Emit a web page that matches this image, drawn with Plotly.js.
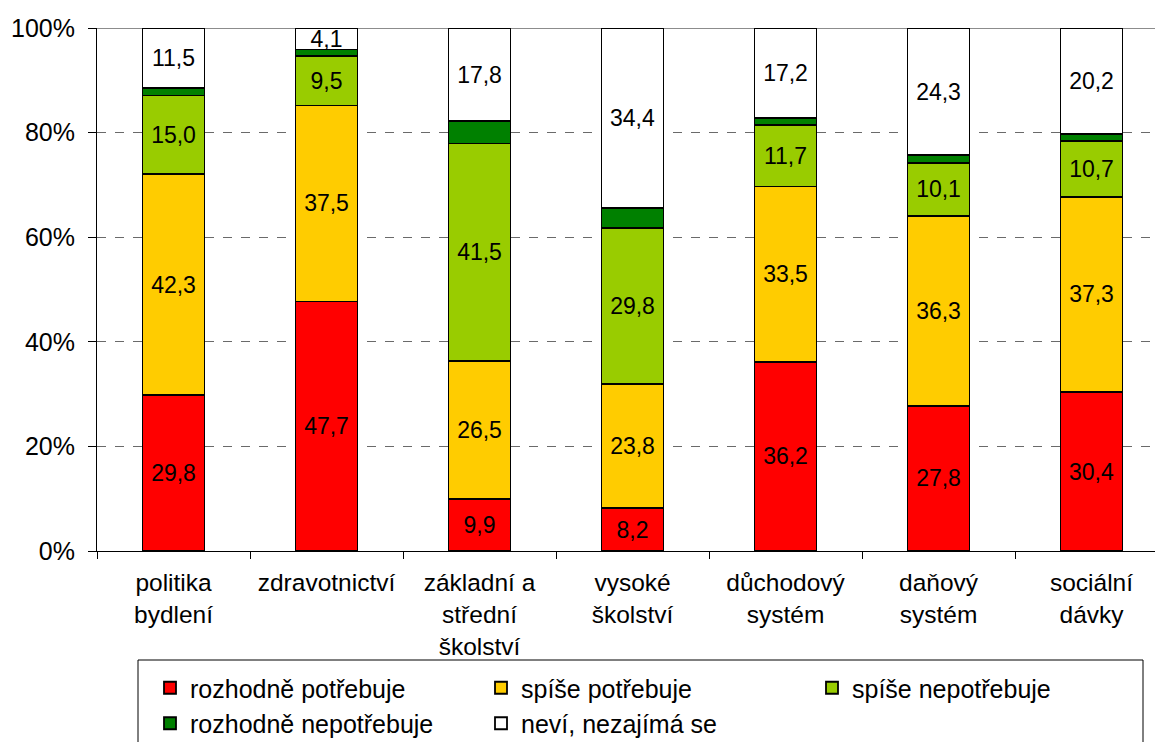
<!DOCTYPE html>
<html>
<head>
<meta charset="utf-8">
<script src="https://cdn.plot.ly/plotly-3.0.1.min.js"></script>
<style>
html, body { margin: 0; padding: 0; overflow: hidden; background: #fff; }
#chart { width: 1170px; height: 770px; }
</style>
</head>
<body>
<div id="chart"></div>
<script>
const categories = [
  "politika<br>bydlení",
  "zdravotnictví",
  "základní a<br>střední<br>školství",
  "vysoké<br>školství",
  "důchodový<br>systém",
  "daňový<br>systém",
  "sociální<br>dávky"
];
const seriesNames = [
  "rozhodně potřebuje",
  "spíše potřebuje",
  "spíše nepotřebuje",
  "rozhodně nepotřebuje",
  "neví, nezajímá se"
];
const rozhodnePotrebuje   = [29.8, 47.7, 9.9, 8.2, 36.2, 27.8, 30.4];
const spisePotrebuje      = [42.3, 37.5, 26.5, 23.8, 33.5, 36.3, 37.3];
const spiseNepotrebuje    = [15.0, 9.5, 41.5, 29.8, 11.7, 10.1, 10.7];
const rozhodneNepotrebuje = [1.4, 1.2, 4.3, 3.8, 1.4, 1.5, 1.4];
const neviNezajimaSe      = [11.5, 4.1, 17.8, 34.4, 17.2, 24.3, 20.2];
const yTickValues = [0, 20, 40, 60, 80, 100];

const seriesValues = [rozhodnePotrebuje, spisePotrebuje, spiseNepotrebuje, rozhodneNepotrebuje, neviNezajimaSe];
const colors = ["#FF0000", "#FFCC00", "#99CC00", "#008000", "#FFFFFF"];
const showLabels = [true, true, true, false, true];
const FONT = "Arial, 'Liberation Sans', sans-serif";

const traces = seriesValues.map((vals, i) => ({
  type: "bar",
  name: seriesNames[i],
  x: categories,
  y: vals,
  marker: { color: colors[i], line: { color: "#000000", width: 1.8 } },
  texttemplate: showLabels[i] ? "%{y:.1f}" : "",
  textposition: showLabels[i] ? "inside" : "none",
  insidetextanchor: "middle",
  textangle: 0,
  constraintext: "none",
  textfont: { color: "#000000", size: 23, family: FONT },
  hoverinfo: "skip"
}));

const W = 1170, H = 770, mL = 97, mR = 2, mT = 28, mB = 219;
const plotH = H - mT - mB;
const plotW = W - mL - mR;
const px2py = (py) => -(py - (H - mB)) / plotH;
const px2px = (px) => (px - mL) / plotW;

const layout = {
  width: W, height: H,
  margin: { l: mL, r: mR, t: mT, b: mB },
  paper_bgcolor: "#ffffff",
  plot_bgcolor: "#ffffff",
  separators: ", ",
  barmode: "stack",
  bargap: 0.595,
  font: { family: FONT, size: 24, color: "#000000" },
  uniformtext: { mode: "show", minsize: 23 },
  showlegend: true,
  xaxis: {
    type: "category",
    showline: true, linecolor: "#000000", linewidth: 1,
    ticks: "outside", tickson: "boundaries", ticklen: 7, tickcolor: "#000000", tickwidth: 1,
    tickfont: { size: 24.5, family: FONT, color: "#000000" },
    ticklabelstandoff: 10,
    showgrid: false, zeroline: false, fixedrange: true
  },
  yaxis: {
    range: [0, 100],
    tickvals: yTickValues,
    ticktext: yTickValues.map(v => v + "%"),
    showline: true, linecolor: "#000000", linewidth: 1,
    ticks: "outside", ticklen: 8, tickcolor: "#000000", tickwidth: 1,
    tickfont: { size: 25, family: FONT, color: "#000000" },
    ticklabelstandoff: 8,
    showgrid: true, gridcolor: "#6a6a6a", griddash: "dash", gridwidth: 1,
    zeroline: false, fixedrange: true
  },
  shapes: [
    { type: "line", xref: "paper", yref: "y", x0: 0, x1: 1, y0: 100, y1: 100,
      line: { color: "#8c8c8c", width: 2 }, layer: "below" },
    { type: "rect", xref: "paper", yref: "paper",
      x0: px2px(138), x1: px2px(1143), y0: px2py(660), y1: px2py(800),
      line: { color: "#000000", width: 1 }, fillcolor: "rgba(0,0,0,0)" }
  ],
  legend: {
    orientation: "h",
    x: px2px(150), xanchor: "left",
    y: px2py(665), yanchor: "top",
    entrywidth: 286, entrywidthmode: "pixels",
    traceorder: "normal",
    font: { size: 25, family: FONT, color: "#000000" },
    bgcolor: "rgba(0,0,0,0)",
    borderwidth: 0
  }
};

Plotly.newPlot("chart", traces, layout, { staticPlot: true, displayModeBar: false });
</script>
</body>
</html>
